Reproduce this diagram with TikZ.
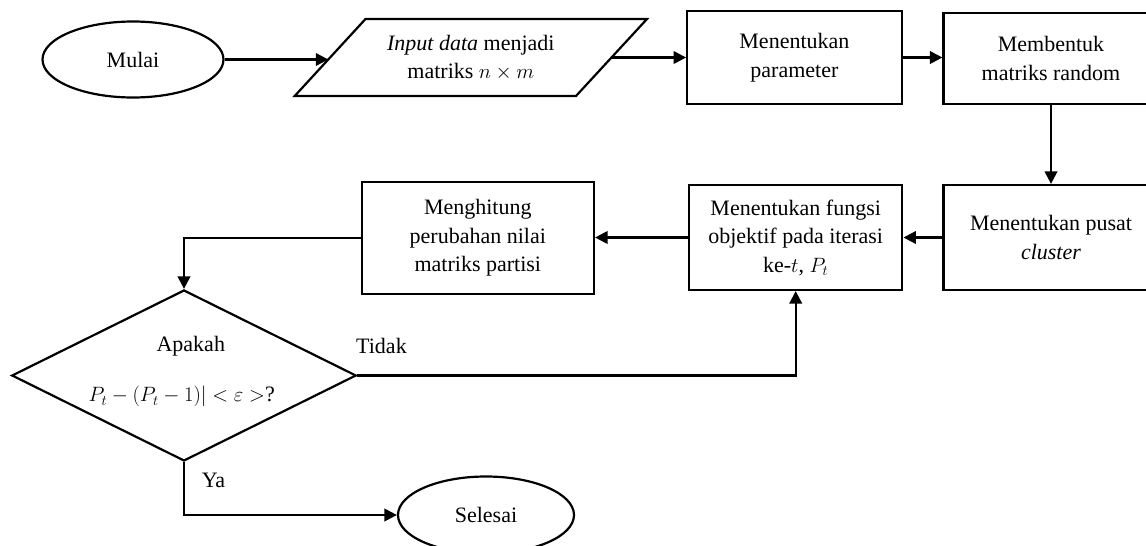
\documentclass[tikz,border=0pt]{standalone}
\usepackage{fontspec}
\setmainfont{Liberation Serif}
\usetikzlibrary{shapes.geometric,arrows.meta}
\begin{document}
\begin{tikzpicture}[x=1pt,y=-1pt,
  every node/.style={font=\fontsize{22}{28.5}\selectfont, inner sep=0pt},
  shapeline/.style={draw, line width=2.2pt},
  boxnode/.style={shapeline, rectangle, align=center},
  term/.style={shapeline, ellipse},
  arr/.style={line width=2.2pt, -{Triangle[length=12.5pt,width=12.5pt]}},
  txt/.style={align=center}]
\useasboundingbox (0,0) rectangle (1146,546);

% nodes
\node[term, minimum width=181pt, minimum height=76pt] (mulai) at (133,59.5) {Mulai};

\coordinate (inBL) at (294.7,96);
\coordinate (inTL) at (365.5,19);
\coordinate (inTR) at (647,19);
\coordinate (inBR) at (576,96);
\draw[line width=2.2pt, line join=miter] (inBL) -- (inTL) -- (inTR) -- (inBR) -- cycle;
\node[txt] (input) at (470.8,57.5) {\textit{Input data} menjadi\\matriks $n\times m$};
\coordinate (inL) at (328.3,59.5);
\coordinate (inR) at (611.4,57.5);

\node[boxnode, minimum width=214.4pt, minimum height=93.6pt] (b2) at (794.4,57.5) {Menentukan\\parameter};
\node[boxnode, minimum width=215pt, minimum height=91.6pt] (b3) at (1051,58.5) {Membentuk\\matriks random};
\node[boxnode, minimum width=215pt, minimum height=105pt] (b4) at (1051,237.5) {Menentukan pusat\\\textit{cluster}};
\node[boxnode, minimum width=213.3pt, minimum height=105pt] (b5) at (795.7,237.5) {Menentukan fungsi\\objektif pada iterasi\\ke-$t$, $P_t$};
\node[boxnode, minimum width=232.4pt, minimum height=112.3pt] (b6) at (477.8,238) {Menghitung\\perubahan nilai\\matriks partisi};

\node[shapeline, diamond, minimum width=344.5pt, minimum height=171pt] (dec) at (184,375.5) {};
\node[txt] (decA) at (190.8,346.7) {Apakah};
\node[txt] (decB) at (181.7,396.7) {$P_t-(P_t-1)|<\varepsilon>$?};

\node[term, minimum width=176pt, minimum height=77pt] (selesai) at (486,515) {Selesai};

\node[anchor=west] (tidak) at (356,345.7) {Tidak};
\node (ya) at (213.5,480.7) {Ya};

% connectors
\draw[arr] (mulai.east) -- (inL);
\draw[arr] (inR) -- (b2.west);
\draw[arr] (b2.east) -- (b2.east -| b3.west);
\draw[arr] (b3.south) -- (b4.north);
\draw[arr] (b4.west) -- (b5.east);
\draw[arr] (b5.west) -- (b5.west -| b6.east);
\draw[arr] (b6.west) -| (dec.north);
\draw[arr] (dec.east) -| (b5.south);
\draw[arr] (dec.south) |- (selesai.west);
\end{tikzpicture}
\end{document}
